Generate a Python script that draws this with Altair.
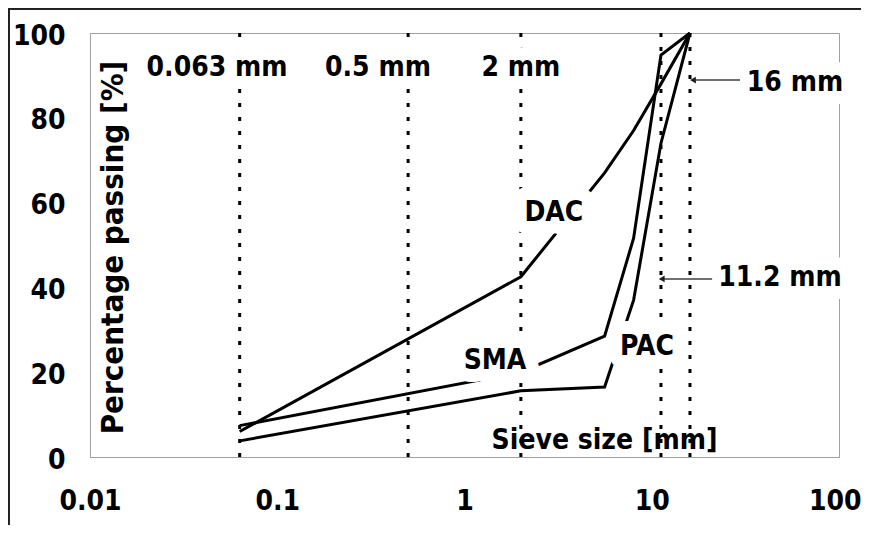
import altair as alt
import pandas as pd

# ---- data ----
sieve = [0.063, 2, 5.6, 8, 11.2, 16]
dac = [6.0, 42.5, 67, 77, 88, 100]
sma = [7.4, 20, 28.5, 51.6, 94.8, 100]
pac = [3.8, 15.6, 16.5, 37, 74, 100]

marker_sizes = [0.063, 0.5, 2, 11.2, 16]

label_text = ["0.063 mm", "0.5 mm", "2 mm", "16 mm", "11.2 mm", "DAC", "SMA", "PAC"]
label_x = [0.0477, 0.345, 2.0, 58.2, 48.4, 3.0, 1.455, 9.43]
label_y = [91.7, 91.7, 91.7, 88.2, 42.2, 57.5, 22.6, 25.9]

arrow_y = [88.9, 42.0]
arrow_from = [29.6, 21.0]
arrow_to = [16.6, 11.3]

FONT = "DejaVu Sans Condensed, DejaVu Sans"
FS = 28

rows = []
for name, vals in [("DAC", dac), ("SMA", sma), ("PAC", pac)]:
    for i, (s, v) in enumerate(zip(sieve, vals)):
        rows.append({"series": name, "x": s, "y": v, "order": i})
curves = pd.DataFrame(rows)
markers = pd.DataFrame({"x": marker_sizes})
labels = pd.DataFrame({"text": label_text, "x": label_x, "y": label_y})
arrows = pd.DataFrame({"x": arrow_from, "x2": arrow_to, "y": arrow_y})

xscale = alt.Scale(type="log", domain=[0.01, 100], nice=False)
yscale = alt.Scale(domain=[0, 100], nice=False)

xaxis = alt.Axis(
    values=[0.01, 0.1, 1, 10, 100], format="~g", title="Sieve size [mm]",
    titleX=514, titleY=-9, titleBaseline="alphabetic", titleAlign="center",
    titleFont=FONT, titleFontSize=FS, titleFontWeight="bold", titleColor="black",
    labelFont=FONT, labelFontSize=FS, labelFontWeight="bold", labelColor="black",
    labelPadding=30, labelFlush=False, labelOverlap=False,
    labelAlign={"condition": {"test": "datum.value >= 100", "value": "right"}, "value": "center"},
    labelOffset={"condition": {"test": "datum.value >= 100", "value": 22}, "value": 0},
    ticks=False, grid=False, domainColor="#a0a0a0", domainWidth=1,
)
yaxis = alt.Axis(
    values=[0, 20, 40, 60, 80, 100], title="Percentage passing [%]",
    titleX=32, titleY=214, titleBaseline="alphabetic", titleAlign="center", titleAngle=270,
    titleFont=FONT, titleFontSize=31, titleFontWeight="bold", titleColor="black",
    labelFont=FONT, labelFontSize=FS, labelFontWeight="bold", labelColor="black",
    labelPadding=25, labelFlush=False, labelOverlap=False, labelBaseline="middle",
    labelOffset=3,
    ticks=False, grid=False, domainColor="#a0a0a0", domainWidth=1,
)


def X(f):
    return alt.X(f"{f}:Q", scale=xscale, axis=xaxis)


def Y(f):
    return alt.Y(f"{f}:Q", scale=yscale, axis=yaxis)


lines = alt.Chart(curves).mark_line(color="black", strokeWidth=3).encode(
    x=X("x"), y=Y("y"), detail="series:N", order="order:Q"
)

dotted = alt.Chart(markers).mark_rule(
    color="black", strokeWidth=3, strokeDash=[4, 10]
).encode(x=X("x"), y=alt.datum(0), y2=alt.datum(100))

halo = alt.Chart(labels).mark_text(
    font=FONT, fontSize=FS, fontWeight="bold", color="white", stroke="white",
    strokeWidth=26, strokeJoin="round", align="center", baseline="middle",
).encode(x=X("x"), y=Y("y"), text="text:N")

text = alt.Chart(labels).mark_text(
    font=FONT, fontSize=FS, fontWeight="bold", color="black",
    align="center", baseline="middle",
).encode(x=X("x"), y=Y("y"), text="text:N")

arrow_line = alt.Chart(arrows).mark_rule(color="#404040", strokeWidth=1.5).encode(
    x=X("x"), x2="x2:Q", y=Y("y")
)
arrow_head = alt.Chart(arrows).mark_point(
    shape="triangle-left", filled=True, color="#202020", size=45, opacity=1
).encode(x=X("x2"), y=Y("y"))

border_top = alt.Chart(markers).mark_rule(color="#202020", strokeWidth=2).encode(
    x=alt.value(-82), x2=alt.value(790), y=alt.value(-24.5)
)
border_left = alt.Chart(markers).mark_rule(color="#202020", strokeWidth=2).encode(
    x=alt.value(-81.5), y=alt.value(-25), y2=alt.value(520)
)

chart = alt.layer(
    lines, dotted, halo, text, arrow_line, arrow_head, border_top, border_left
).properties(
    width=749, height=424,
    autosize=alt.AutoSizeParams(type="none"),
    padding={"left": 82, "top": 25, "right": 22, "bottom": 68},
    background="white",
).configure_view(stroke="#a0a0a0", strokeWidth=1)

chart.save("out.html", embed_options={"renderer": "svg", "actions": False})
